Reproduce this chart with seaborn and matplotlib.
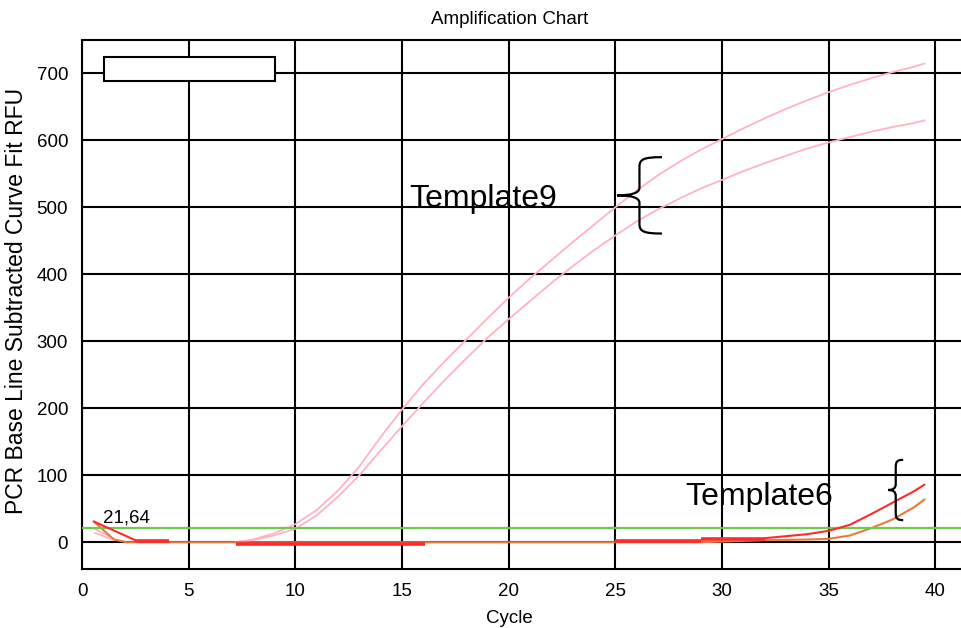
"""
Amplification chart (qPCR) - Template9 vs Template6
"""

import matplotlib
matplotlib.use("Agg")
import matplotlib.pyplot as plt
import seaborn as sns
from matplotlib.path import Path
from matplotlib.patches import PathPatch, Rectangle
from matplotlib.ticker import MultipleLocator

sns.set_style("white")
plt.rcParams.update({
    "font.family": ["Liberation Sans", "DejaVu Sans"],
    "text.color": "black",
    "axes.labelcolor": "black",
    "xtick.color": "black",
    "ytick.color": "black",
})

PINK = "#FFB3C1"
RED = "#FF2A2A"
ORANGE = "#E87A3A"
GREEN = "#6CCB4C"

# ---------------------------------------------------------------------------
# Data
# ---------------------------------------------------------------------------
T9_CYCLES = [7.2, 8, 9, 10, 11, 12, 13, 14, 15, 16, 17, 18, 19, 20, 21, 22,
             23, 24, 25, 26, 27, 28, 29, 30, 31, 32, 33, 34, 35, 36, 37, 38,
             39, 39.5]
T9_UPPER = [0, 4, 13, 27, 48, 77, 113, 157, 198, 236, 270, 302, 334, 365,
            394, 421, 448, 474, 500, 525, 548, 568, 586, 602, 618, 633, 647,
            660, 672, 683, 693, 702, 710, 715]
T9_LOWER = [0, 3, 10, 20, 40, 68, 100, 137, 173, 208, 242, 274, 305, 333,
            360, 387, 412, 436, 458, 479, 497, 513, 528, 541, 554, 566, 577,
            588, 597, 605, 613, 620, 626, 630]
T9_START_CYCLES = [0.6, 1.5]
T9_START_UPPER = [20, 5]
T9_START_LOWER = [14, 3]

RED_START_CYCLES = [0.55, 2.5]
RED_START = [31, 3]
RED_CYCLES = [32, 33, 34, 35, 36, 37, 38, 39, 39.5]
RED_VALUES = [6, 9, 12, 17, 26, 42, 59, 76, 86]
RED_SEG_START = [2.5, 7.2, 25.0, 29.0]
RED_SEG_END = [4.1, 16.1, 29.0, 32.0]
RED_SEG_LEVEL = [2, -3, 2, 5]

ORANGE_CYCLES = [0.55, 1.5, 2.1, 29, 32, 34, 35, 36, 37, 38, 39, 39.5]
ORANGE_VALUES = [31, 4, 0, 0, 3, 4, 5, 10, 21, 34, 52, 64]

THRESHOLD = 21.64


def brace(ax, tip_x, tip_y, half_h, width, lw=1.6):
    """Left-pointing curly brace drawn in data coordinates."""
    u = [(1, 1), (0.6, 1), (0.5, 0.95), (0.5, 0.75), (0.5, 0.2),
         (0.5, 0.05), (0.3, 0), (0, 0),
         (0.3, 0), (0.5, -0.05), (0.5, -0.2), (0.5, -0.75),
         (0.5, -0.95), (0.6, -1), (1, -1)]
    codes = [Path.MOVETO, Path.CURVE4, Path.CURVE4, Path.CURVE4, Path.LINETO,
             Path.CURVE4, Path.CURVE4, Path.CURVE4,
             Path.CURVE4, Path.CURVE4, Path.CURVE4, Path.LINETO,
             Path.CURVE4, Path.CURVE4, Path.CURVE4]
    verts = [(tip_x + a * width, tip_y + b * half_h) for a, b in u]
    ax.add_patch(PathPatch(Path(verts, codes), fill=False, lw=lw,
                           edgecolor="black", zorder=6, clip_on=False))


fig = plt.figure(figsize=(9.62, 6.28), dpi=100)
ax = fig.add_axes([82 / 962, 59 / 628, 880 / 962, 529 / 628])

# Template9 curves
sns.lineplot(x=T9_CYCLES, y=T9_UPPER, color=PINK, lw=1.3, ax=ax, zorder=3)
sns.lineplot(x=T9_CYCLES, y=T9_LOWER, color=PINK, lw=1.3, ax=ax, zorder=3)
sns.lineplot(x=T9_START_CYCLES, y=T9_START_UPPER, color=PINK, lw=1.3, ax=ax, zorder=3)
sns.lineplot(x=T9_START_CYCLES, y=T9_START_LOWER, color=PINK, lw=1.3, ax=ax, zorder=3)

# Template6 curves
sns.lineplot(x=ORANGE_CYCLES, y=ORANGE_VALUES, color=ORANGE, lw=1.5, ax=ax, zorder=3)
sns.lineplot(x=RED_START_CYCLES, y=RED_START, color=RED, lw=1.5, ax=ax, zorder=4)
sns.lineplot(x=RED_CYCLES, y=RED_VALUES, color=RED, lw=1.5, ax=ax, zorder=4)
ax.hlines(RED_SEG_LEVEL, RED_SEG_START, RED_SEG_END, color=RED, lw=2.6, zorder=4)

# threshold
ax.axhline(THRESHOLD, color=GREEN, lw=1.6, zorder=3)

ax.set_xlim(0, 880 / 21.33)
ax.set_ylim(-40, 750)

ax.xaxis.set_major_locator(MultipleLocator(5))
ax.xaxis.set_minor_locator(MultipleLocator(1))
ax.yaxis.set_major_locator(MultipleLocator(100))
ax.yaxis.set_minor_locator(MultipleLocator(20))
ax.grid(True, which="major", color="black", lw=1.5, zorder=1)
ax.set_axisbelow(True)

ax.tick_params(which="major", direction="out", length=7, width=1.5,
               color="black", labelcolor="black", labelsize=13.5, pad=3)
ax.tick_params(axis="x", which="minor", direction="in", length=7.5,
               width=1.5, color="#c8c8c8")
ax.tick_params(axis="y", which="minor", direction="in", length=5,
               width=1.5, color="#c8c8c8")

for side in ["left", "bottom", "top"]:
    ax.spines[side].set_color("black")
    ax.spines[side].set_linewidth(1.5)
ax.spines["right"].set_visible(False)

ax.set_xlabel("Cycle", fontsize=13.5, color="black")
ax.xaxis.set_label_coords(0.486, -0.077)
ax.set_ylabel("PCR Base Line Subtracted Curve Fit RFU", fontsize=16.5,
              color="black")
ax.yaxis.set_label_coords(-0.061, 0.507)
fig.text(510 / 962, 1 - 19 / 628, "Amplification Chart", fontsize=13.5,
         ha="center", va="center", color="black")

# empty legend box
ax.add_patch(Rectangle((0.025, 0.9225), 0.1943, 0.0454, transform=ax.transAxes,
                       facecolor="white", edgecolor="black", lw=1.5, zorder=5))

# annotations
ax.text(0.98, 30, "21,64", fontsize=13.5, ha="left", va="baseline", zorder=6)
ax.text(15.35, 501, "Template9", fontsize=23, ha="left", va="baseline", zorder=6)
ax.text(28.3, 55, "Template6", fontsize=23, ha="left", va="baseline", zorder=6)
brace(ax, 25.08, 518, 57, 2.11)
brace(ax, 37.8, 78, 45, 0.7)

fig.savefig("out.png", dpi=100)
